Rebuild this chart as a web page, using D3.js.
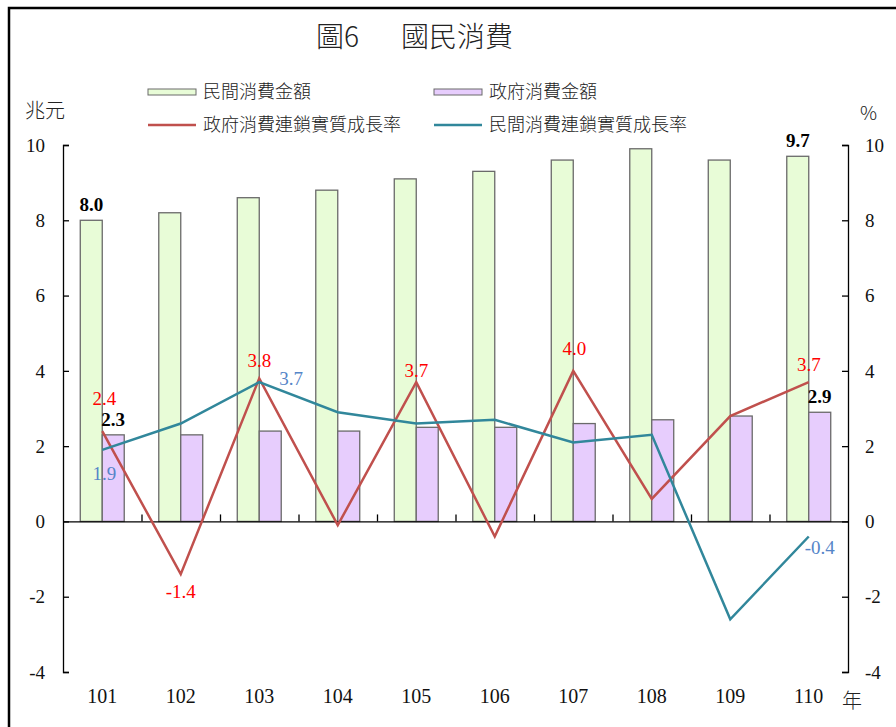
<!DOCTYPE html>
<html>
<head>
<meta charset="utf-8">
<script src="https://cdn.jsdelivr.net/npm/d3@7"></script>
<style>
  html, body { margin: 0; padding: 0; background: #fff; }
  svg { display: block; }
</style>
</head>
<body>
<svg id="chart" width="896" height="727"></svg>
<script>
// ---------- data ----------
const years = ["101","102","103","104","105","106","107","108","109","110"];
const privateAmount = [8.0, 8.2, 8.6, 8.8, 9.1, 9.3, 9.6, 9.9, 9.6, 9.7];   // 民間消費金額 (兆元)
const govAmount     = [2.3, 2.3, 2.4, 2.4, 2.5, 2.5, 2.6, 2.7, 2.8, 2.9];   // 政府消費金額 (兆元)
const govGrowth     = [2.4, -1.4, 3.8, -0.1, 3.7, -0.4, 4.0, 0.6, 2.8, 3.7]; // 政府消費連鎖實質成長率 (%)
const privGrowth    = [1.9, 2.6, 3.7, 2.9, 2.6, 2.7, 2.1, 2.3, -2.6, -0.4]; // 民間消費連鎖實質成長率 (%)
const yTicks = [-4, -2, 0, 2, 4, 6, 8, 10];
// labelled points: [series, index, placement]
const amountLabels = [["private", 0], ["gov", 0], ["private", 9], ["gov", 9]];
const govGrowthLabels = [[0, "aboveTop"], [1, "below"], [2, "above"], [4, "aboveLow"], [6, "aboveHigh"], [9, "above"]];
const privGrowthLabels = [[0, "belowFar"], [2, "right"], [9, "rightBelow"]];

// ---------- setup ----------
const svg = d3.select("#chart");
const serif = "Liberation Serif";
const cjk = "Noto Sans CJK TC";
const colors = {
  privFill: "#e8fcd7", govFill: "#e7cdfd", barStroke: "#6a6a6a",
  redLine: "#c0504d", tealLine: "#31879b", redText: "#ff0000", blueText: "#5585c8"
};

const plotLeft = 63, plotRight = 848, plotTop = 145, plotBottom = 672;

const x = d3.scaleBand().domain(years).range([plotLeft, plotRight]).paddingInner(0.44).paddingOuter(0.22);
const xSub = d3.scaleBand().domain(["private", "gov"]).range([0, x.bandwidth()]);
const xc = d => x(d) + x.bandwidth() / 2;
const yL = d3.scaleLinear().domain([-4, 10]).range([plotBottom, plotTop]);
const yR = d3.scaleLinear().domain([-4, 10]).range([plotBottom, plotTop]);

// outer frame
svg.append("rect").attr("x", 9).attr("y", 8).attr("width", 900).attr("height", 730)
  .attr("fill", "none").attr("stroke", "#000").attr("stroke-width", 2.5);

// title
const title = svg.append("text").attr("y", 47).attr("font-family", cjk).attr("font-size", 28)
  .attr("font-weight", 300).attr("fill", "#222");
title.append("tspan").attr("x", 316).text("圖6");
title.append("tspan").attr("x", 401).text("國民消費");

// ---------- bars ----------
const amountSeries = [
  { key: "private", values: privateAmount, fill: colors.privFill },
  { key: "gov", values: govAmount, fill: colors.govFill }
];
amountSeries.forEach(s => {
  svg.append("g").selectAll("rect").data(s.values).join("rect")
    .attr("x", (d, i) => x(years[i]) + xSub(s.key))
    .attr("width", xSub.bandwidth())
    .attr("y", d => yL(d))
    .attr("height", d => yL(0) - yL(d))
    .attr("fill", s.fill)
    .attr("stroke", colors.barStroke).attr("stroke-width", 1.3);
});

// ---------- axes ----------
const axL = svg.append("g").attr("transform", `translate(${plotLeft},0)`)
  .call(d3.axisRight(yL).tickValues(yTicks).tickSize(6).tickFormat(""));
const axR = svg.append("g").attr("transform", `translate(${plotRight},0)`)
  .call(d3.axisLeft(yR).tickValues(yTicks).tickSize(6).tickFormat(""));
[axL, axR].forEach(a => {
  a.select(".domain").attr("stroke", "#000").attr("stroke-width", 1.3);
  a.selectAll(".tick line").attr("stroke", "#000").attr("stroke-width", 1.3);
});
// tick labels
svg.append("g").selectAll("text").data(yTicks).join("text")
  .attr("x", 45).attr("y", d => yL(d)).attr("dy", "0.35em").attr("text-anchor", "end")
  .attr("font-family", serif).attr("font-size", 19).attr("fill", "#111").text(d => d);
svg.append("g").selectAll("text").data(yTicks).join("text")
  .attr("x", 865).attr("y", d => yR(d)).attr("dy", "0.35em").attr("text-anchor", "start")
  .attr("font-family", serif).attr("font-size", 19).attr("fill", "#111").text(d => d);

// zero line + category ticks
const xAxis = svg.append("g").attr("transform", `translate(0,${yL(0)})`)
  .call(d3.axisTop(d3.scaleLinear().domain([0, years.length]).range([plotLeft, plotRight]))
    .tickValues(d3.range(1, years.length)).tickSize(7).tickSizeOuter(0).tickFormat(""));
xAxis.select(".domain").attr("stroke", "#000").attr("stroke-width", 1.3);
xAxis.selectAll(".tick line").attr("stroke", "#000").attr("stroke-width", 1.3);

// category labels
svg.append("g").selectAll("text").data(years).join("text")
  .attr("x", d => xc(d)).attr("y", 703).attr("text-anchor", "middle")
  .attr("font-family", serif).attr("font-size", 20).attr("fill", "#111").text(d => d);

// unit labels
svg.append("text").attr("x", 25).attr("y", 118).attr("font-family", cjk).attr("font-size", 20)
  .attr("font-weight", 300).attr("fill", "#222").text("兆元");
svg.append("text").attr("x", 860).attr("y", 120).attr("font-family", cjk).attr("font-size", 19)
  .attr("font-weight", 300).attr("fill", "#222").text("%");
svg.append("text").attr("x", 842).attr("y", 708).attr("font-family", cjk).attr("font-size", 20)
  .attr("font-weight", 300).attr("fill", "#222").text("年");

// ---------- lines ----------
const lineGen = d3.line().x((d, i) => xc(years[i])).y(d => yR(d));
svg.append("path").datum(govGrowth).attr("d", lineGen)
  .attr("fill", "none").attr("stroke", colors.redLine).attr("stroke-width", 2.5);
svg.append("path").datum(privGrowth).attr("d", lineGen)
  .attr("fill", "none").attr("stroke", colors.tealLine).attr("stroke-width", 2.5);

// ---------- data labels ----------
amountLabels.forEach(([key, i]) => {
  const v = key === "private" ? privateAmount[i] : govAmount[i];
  svg.append("text")
    .attr("x", x(years[i]) + xSub(key) + xSub.bandwidth() / 2)
    .attr("y", yL(v) - 9).attr("text-anchor", "middle")
    .attr("font-family", serif).attr("font-size", 19).attr("font-weight", "bold").attr("fill", "#000")
    .text(v.toFixed(1));
});

const placements = {
  above:     { dx: 0,  dy: -11, anchor: "middle" },
  aboveLow:  { dx: 0,  dy: -5,  anchor: "middle" },
  aboveHigh: { dx: 1,  dy: -16, anchor: "middle" },
  aboveTop:  { dx: 2,  dy: -26, anchor: "middle" },
  below:     { dx: 0,  dy: 24,  anchor: "middle" },
  belowFar:  { dx: 2,  dy: 30,  anchor: "middle" },
  right:     { dx: 20, dy: 3,   anchor: "start" },
  rightBelow:{ dx: -4, dy: 18,  anchor: "start" }
};
function placeLabel(vals, i, place, color) {
  const p = placements[place];
  svg.append("text").attr("x", xc(years[i]) + p.dx).attr("y", yR(vals[i]) + p.dy).attr("text-anchor", p.anchor)
    .attr("font-family", serif).attr("font-size", 19).attr("fill", color)
    .text(vals[i].toFixed(1));
}
govGrowthLabels.forEach(([i, p]) => placeLabel(govGrowth, i, p, colors.redText));
privGrowthLabels.forEach(([i, p]) => placeLabel(privGrowth, i, p, colors.blueText));

// ---------- legend ----------
const legendItems = [
  { label: "民間消費金額", type: "rect", color: colors.privFill, x: 148, y: 92 },
  { label: "政府消費金額", type: "rect", color: colors.govFill, x: 434, y: 92 },
  { label: "政府消費連鎖實質成長率", type: "line", color: colors.redLine, x: 148, y: 125 },
  { label: "民間消費連鎖實質成長率", type: "line", color: colors.tealLine, x: 434, y: 125 }
];
const lg = svg.append("g");
legendItems.forEach(it => {
  if (it.type === "rect") {
    lg.append("rect").attr("x", it.x).attr("y", it.y - 3).attr("width", 48).attr("height", 6)
      .attr("fill", it.color).attr("stroke", colors.barStroke).attr("stroke-width", 1);
  } else {
    lg.append("line").attr("x1", it.x).attr("x2", it.x + 48).attr("y1", it.y).attr("y2", it.y)
      .attr("stroke", it.color).attr("stroke-width", 2.5);
  }
  lg.append("text").attr("x", it.x + 55).attr("y", it.y).attr("dy", "0.35em")
    .attr("font-family", cjk).attr("font-size", 18).attr("font-weight", 300).attr("fill", "#222")
    .text(it.label);
});
</script>
</body>
</html>
